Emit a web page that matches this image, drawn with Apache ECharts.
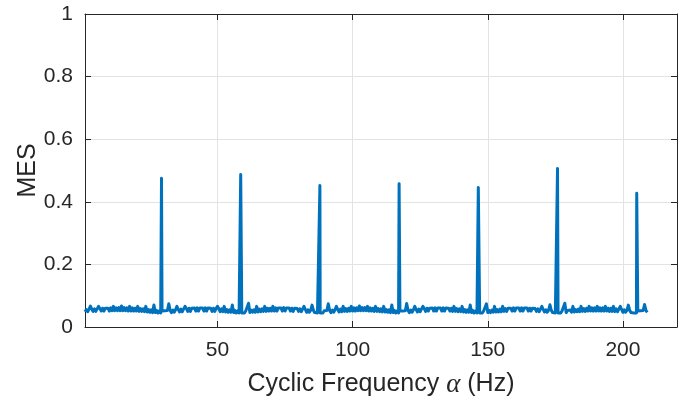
<!DOCTYPE html>
<html>
<head>
<meta charset="utf-8">
<script src="https://cdn.jsdelivr.net/npm/echarts@6/dist/echarts.min.js"></script>
<style>
  html, body { margin: 0; padding: 0; background: #ffffff; }
  #chart { width: 685px; height: 401px; }
</style>
</head>
<body>
<div id="chart"></div>
<script>
// Cyclic frequency grid of the MES baseline (Hz)
const gridStartHz = 1.0;
const gridStepHz = 0.5;

// MES baseline, one value per 0.5 Hz from 1.0 Hz to 209.0 Hz
const baselineMes = [
  0.049,0.056,0.049,0.057,0.067,0.057,0.050,0.058,0.050,0.058,
  0.066,0.059,0.051,0.060,0.051,0.060,0.066,0.060,0.051,0.061,
  0.052,0.066,0.052,0.061,0.052,0.062,0.052,0.067,0.052,0.062,
  0.052,0.061,0.051,0.066,0.051,0.061,0.051,0.060,0.051,0.066,
  0.050,0.059,0.050,0.058,0.049,0.066,0.048,0.056,0.047,0.055,
  0.046,0.070,0.046,0.053,0.045,0.052,0.045,0.051,0.045,0.052,
  0.046,0.053,0.074,0.053,0.046,0.054,0.047,0.055,0.066,0.056,
  0.048,0.057,0.049,0.058,0.066,0.059,0.050,0.060,0.050,0.060,
  0.066,0.061,0.051,0.061,0.051,0.061,0.066,0.061,0.051,0.061,
  0.051,0.061,0.066,0.060,0.050,0.060,0.050,0.059,0.066,0.059,
  0.049,0.058,0.049,0.066,0.048,0.056,0.047,0.055,0.047,0.070,
  0.046,0.053,0.045,0.052,0.045,0.051,0.045,0.051,0.045,0.052,
  0.046,0.076,0.046,0.054,0.047,0.055,0.047,0.066,0.048,0.057,
  0.049,0.058,0.050,0.066,0.050,0.060,0.051,0.060,0.051,0.066,
  0.051,0.061,0.051,0.061,0.066,0.061,0.051,0.062,0.051,0.061,
  0.066,0.061,0.051,0.060,0.050,0.060,0.066,0.059,0.050,0.058,
  0.049,0.057,0.066,0.056,0.047,0.055,0.047,0.054,0.070,0.053,
  0.046,0.052,0.045,0.051,0.045,0.051,0.045,0.052,0.046,0.053,
  0.074,0.053,0.046,0.054,0.047,0.055,0.066,0.056,0.048,0.057,
  0.049,0.066,0.050,0.059,0.050,0.060,0.051,0.066,0.051,0.061,
  0.051,0.061,0.052,0.067,0.052,0.062,0.052,0.062,0.052,0.066,
  0.051,0.061,0.051,0.060,0.050,0.066,0.050,0.059,0.049,0.058,
  0.048,0.066,0.048,0.056,0.047,0.055,0.046,0.070,0.046,0.053,
  0.045,0.052,0.045,0.051,0.045,0.051,0.045,0.052,0.075,0.053,
  0.046,0.054,0.047,0.055,0.066,0.056,0.048,0.057,0.049,0.058,
  0.066,0.059,0.050,0.060,0.051,0.060,0.066,0.061,0.051,0.061,
  0.051,0.061,0.066,0.061,0.051,0.061,0.051,0.061,0.066,0.060,
  0.051,0.060,0.050,0.066,0.050,0.059,0.049,0.058,0.049,0.066,
  0.048,0.056,0.047,0.055,0.047,0.070,0.046,0.053,0.045,0.052,
  0.045,0.051,0.045,0.051,0.045,0.052,0.046,0.074,0.046,0.053,
  0.046,0.054,0.047,0.066,0.048,0.056,0.048,0.057,0.049,0.066,
  0.050,0.059,0.050,0.060,0.066,0.060,0.051,0.061,0.051,0.061,
  0.066,0.061,0.051,0.061,0.051,0.061,0.066,0.061,0.051,0.060,
  0.051,0.060,0.066,0.059,0.050,0.058,0.049,0.057,0.066,0.056,
  0.048,0.055,0.047,0.054,0.071,0.053,0.046,0.052,0.045,0.051,
  0.045,0.051,0.045,0.052,0.046,0.076,0.046,0.053,0.047,0.054,
  0.047,0.066,0.048,0.056,0.049,0.057,0.049,0.066,0.050,0.059,
  0.050,0.060,0.051,0.066,0.051,0.061,0.051,0.061,0.051,0.066,
  0.051,0.061,0.051,0.061,0.051,0.066,0.051,0.060,0.050,0.060,
  0.050,0.066,0.049,0.058,0.049,0.057,0.066,0.056,0.047,0.055,
  0.047,0.054,0.070,0.053,0.046,0.052,0.045,0.051,0.045,0.051,
  0.045,0.052,0.046,0.053,0.072,0.053,0.047
];

// Harmonic peaks of the cyclic spectrum
const peakHz = [29.3, 58.6, 87.9, 117.2, 146.5, 175.8, 205.1];
const peakMes = [0.475, 0.487, 0.452, 0.458, 0.446, 0.506, 0.427];

// Axis ticks
const xTicks = [50, 100, 150, 200];
const yTicks = [0, 0.2, 0.4, 0.6, 0.8, 1];

// Build the [alpha, MES] series: baseline grid plus the peak lines
const points = baselineMes.map((v, i) => [gridStartHz + i * gridStepHz, v]);
peakHz.forEach((f, k) => points.push([f, peakMes[k]]));
points.sort((a, b) => a[0] - b[0]);

const axisColor = '#262626';
const gridColor = '#e3e3e3';
const fontFamily = "'Liberation Sans', Arial, Helvetica, sans-serif";

const chart = echarts.init(document.getElementById('chart'), null, { renderer: 'canvas' });

const baseX = {
  type: 'value',
  min: 1,
  max: 220,
  axisLine: { show: true, onZero: false, lineStyle: { color: axisColor, width: 1 } },
  axisTick: { show: true, inside: true, length: 6, customValues: xTicks, lineStyle: { color: axisColor, width: 1 } },
  splitLine: { show: false }
};
const baseY = {
  type: 'value',
  min: yTicks[0],
  max: yTicks[yTicks.length - 1],
  interval: 0.2,
  axisLine: { show: true, onZero: false, lineStyle: { color: axisColor, width: 1 } },
  axisTick: { show: true, inside: true, length: 6, lineStyle: { color: axisColor, width: 1 } },
  splitLine: { show: false }
};

chart.setOption({
  animation: false,
  backgroundColor: '#ffffff',
  grid: { left: 85, right: 8, top: 14, bottom: 74, containLabel: false, outerBoundsMode: 'none' },
  xAxis: [
    Object.assign({}, baseX, {
      position: 'bottom',
      axisLabel: {
        show: true, customValues: xTicks, margin: 13,
        color: axisColor, fontSize: 21, fontFamily: fontFamily
      },
      splitLine: { show: true, lineStyle: { color: gridColor, width: 1 } },
      name: 'Cyclic Frequency {a|α} (Hz)',
      nameLocation: 'middle',
      nameMoveOverlap: false,
      nameGap: 44,
      nameTextStyle: {
        color: axisColor, fontSize: 25, fontFamily: fontFamily,
        rich: {
          a: { fontFamily: "'Liberation Serif', 'DejaVu Serif', serif", fontStyle: 'italic', fontSize: 27, color: axisColor }
        }
      }
    }),
    Object.assign({}, baseX, { position: 'top', axisLabel: { show: false } })
  ],
  yAxis: [
    Object.assign({}, baseY, {
      position: 'left',
      axisLabel: {
        show: true, margin: 12,
        color: axisColor, fontSize: 21, fontFamily: fontFamily
      },
      splitLine: { show: true, lineStyle: { color: gridColor, width: 1 } },
      name: 'MES',
      nameLocation: 'middle',
      nameMoveOverlap: false,
      nameGap: 44,
      nameRotate: 90,
      nameTextStyle: { color: axisColor, fontSize: 25, fontFamily: fontFamily }
    }),
    Object.assign({}, baseY, { position: 'right', axisLabel: { show: false } })
  ],
  series: [{
    type: 'line',
    data: points,
    xAxisIndex: 0,
    yAxisIndex: 0,
    showSymbol: false,
    clip: true,
    lineStyle: { color: '#0072BD', width: 3, join: 'round' },
    itemStyle: { color: '#0072BD' }
  }]
});
</script>
</body>
</html>
